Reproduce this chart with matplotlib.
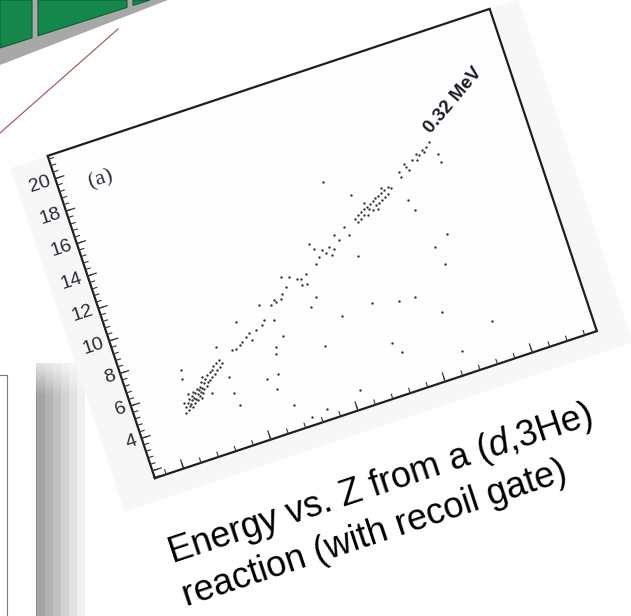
import numpy as np
import matplotlib
matplotlib.use('Agg')
import matplotlib.pyplot as plt
from matplotlib.transforms import Affine2D
from matplotlib.patches import Polygon, Rectangle

plt.rcParams['font.family'] = ['Liberation Sans', 'DejaVu Sans']
plt.rcParams['mathtext.fontset'] = 'custom'
plt.rcParams['mathtext.rm'] = 'Liberation Sans'
plt.rcParams['mathtext.it'] = 'Liberation Sans:italic'

# ---------------- data (Z position vs. energy) ----------------
low_z = [2.2, 2.4, 2.3, 2.6, 2.7, 2.8, 2.9, 3.0, 3.1, 3.2, 3.3, 3.4, 3.5, 3.6, 3.7, 3.8, 3.9,
         4.0, 4.1, 4.2, 4.3, 4.4, 4.5, 4.6, 4.7, 4.8, 4.9, 5.0, 5.2, 5.3, 5.5, 5.6, 5.8,
         6.0, 6.1, 6.3, 6.5, 6.6, 6.8, 7.0, 7.2, 7.4, 7.6, 3.0, 4.3, 5.1]
low_e = [4.6, 4.9, 5.2, 4.7, 5.1, 4.9, 5.3, 5.0, 4.8, 5.2, 5.4, 5.0, 5.3, 5.6, 5.2, 5.5, 5.1,
         5.4, 5.7, 5.3, 5.6, 5.5, 5.8, 5.4, 5.7, 6.0, 5.6, 5.9, 5.7, 6.1, 5.9, 6.3, 6.0,
         6.4, 6.1, 6.5, 6.2, 6.7, 6.4, 6.8, 6.5, 6.9, 6.7, 5.6, 5.1, 6.3]

mid_z = [9.08, 9.49, 10.02, 10.92, 11.38, 11.49, 13.05, 13.39, 12.18, 10.4,
         14.59, 15.11, 15.22, 16.2, 15.86, 16.77, 17.46, 16.6, 18.27, 19.29, 19.12, 18.55, 18.6,
         20.67, 21.01, 20.67, 21.24, 21.81, 22.05, 22.62, 22.68, 23.54, 23.88, 24.86, 25.08, 23.08]
mid_e = [7.23, 7.25, 7.36, 7.72, 7.84, 7.41, 8.05, 8.3, 7.89, 7.5,
         9.01, 9.22, 9.1, 9.44, 9.19, 9.75, 10.24, 10.39, 9.99, 10.12, 9.53, 9.53, 9.9,
         11.72, 11.34, 10.48, 10.79, 11.1, 10.86, 11.16, 10.64, 11.71, 11.35, 12.0, 11.43, 10.97]

high_z = [26.3, 26.5, 26.7, 26.9, 27.1, 27.3, 27.5, 27.7, 27.9, 28.1, 28.3, 28.5, 28.7, 28.9,
          29.1, 29.3, 29.5, 29.7, 29.9, 30.1, 30.3, 30.5, 30.8, 31.1, 27.8, 29.0, 30.0,
          32.43, 32.42, 33.29, 33.51, 34.21, 34.78, 35.06, 35.58, 36.04, 36.56, 34.73, 33.23, 35.7]
high_e = [12.2, 12.0, 12.4, 12.1, 12.5, 12.3, 12.6, 12.2, 12.7, 12.5, 12.8, 12.4, 12.9, 12.6,
          13.0, 12.7, 13.1, 12.8, 13.2, 12.9, 13.3, 13.0, 13.4, 13.3, 12.95, 12.35, 13.5,
          14.03, 13.72, 14.17, 13.93, 14.42, 14.73, 14.58, 14.79, 14.91, 15.13, 14.33, 14.39, 14.7]

stray_z = [3.09, 2.95, 5.53, 7.48, 10.41, 7.76, 7.95, 7.82, 13.39, 11.72, 14.42, 12.4, 13.03,
           13.67, 13.51, 14.8, 13.55, 15.03, 16.87, 19.52, 18.66, 21.62, 18.79, 20.94, 25.33,
           24.24, 26.67, 25.17, 27.98, 25.84, 26.59, 29.83, 32.07, 32.78, 36.92, 35.29, 33.55,
           34.07, 32.43, 32.78, 37.12, 37.1]
stray_e = [7.1, 6.57, 5.19, 7.72, 8.73, 4.79, 4.03, 5.81, 9.22, 5.0, 8.11, 4.26, 5.07,
           6.6, 6.22, 7.06, 3.02, 2.04, 2.23, 8.63, 8.17, 7.09, 5.75, 2.63, 10.1,
           14.88, 13.66, 7.27, 6.87, 4.66, 4.01, 6.78, 5.45, 2.92, 4.03, 9.71, 9.2,
           8.07, 12.31, 11.64, 14.31, 13.8]

y_major = [2, 4, 6, 8, 10, 12, 14, 16, 18, 20]
y_minor = list(np.arange(1.6, 21.3, 0.4))
y_labels = ['4', '6', '8', '10', '12', '14', '16', '18', '20']
x_major = [0, 10, 20, 30, 40]
x_minor = list(np.arange(-2, 47, 2))
xlim = (-3.3, 47.4)
ylim = (1.55, 21.4)

caption1 = "Energy vs. Z from a ($\\mathit{d}$,3He)"
caption2 = "reaction (with recoil gate)"
peak_label = "0.32 MeV"
panel_label = "(a)"

# ---------------- figure ----------------
W, H = 631, 616
fig = plt.figure(figsize=(W / 100, H / 100), dpi=100)
fig.patch.set_facecolor('white')

# background decoration axes in pixel coordinates (y downwards)
bg = fig.add_axes([0, 0, 1, 1], zorder=0)
bg.set_xlim(0, W)
bg.set_ylim(H, 0)
bg.axis('off')

# green detector strip (top-left)
bg.add_patch(Polygon([(0, 0), (168, 0), (0, 65)], closed=True, fc='#a8a8a8', ec='none'))
for poly in ([(0, 0), (32, 0), (32, 37.8), (0, 48)],
             [(38, 0), (127, 0), (127, 7.4), (38, 35.8)],
             [(133, 0), (150, 0), (133, 5.4)]):
    bg.add_patch(Polygon(poly, closed=True, fc='#14874a', ec='#0c5e33', lw=0.8))
# thin red guide line
bg.plot([118, 0], [29, 133], color='#9a5050', lw=0.8)

# bottom-left box with soft shadow
nx, ny = 57, 253
cols = np.arange(nx)
a_col = np.floor((1 - cols / nx) * 7) / 7 * 0.42
rows = np.arange(ny)
a_row = np.clip(0.3 + rows / 45.0, 0, 1)
shadow = np.zeros((ny, nx, 4))
shadow[..., 3] = a_row[:, None] * a_col[None, :]
bg.imshow(shadow, extent=(36, 93, 616, 363), interpolation='nearest', aspect='auto', zorder=1)
bg.add_patch(Rectangle((0, 363), 36, 253, fc='white', ec='none', zorder=2))
bg.plot([7, 7], [375, 616], color='#7a7a7a', lw=0.8, zorder=3)
bg.plot([0, 7], [375, 375], color='#7a7a7a', lw=0.8, zorder=3)
bg.set_xlim(0, W)
bg.set_ylim(H, 0)

# ---------------- rotated scatter plot ----------------
cx, cy = 322.25, 616 - 243.5
aw, ah = 465.8, 339.6
ax = fig.add_axes([(cx - aw / 2) / W, (cy - ah / 2) / H, aw / W, ah / H], zorder=2)
ax.set_xlim(*xlim)
ax.set_ylim(*ylim)
ax.set_autoscale_on(False)
ax.axis('off')

R = Affine2D().rotate_deg_around(cx, cy, 18.4)
tD = ax.transData + R
tA = ax.transAxes + R
tY = ax.get_yaxis_transform() + R
tX = ax.get_xaxis_transform() + R

# image background of the pasted figure
ax.add_patch(Polygon([(-0.085, -0.065), (1.065, -0.065), (1.065, 1.0), (-0.085, 1.0)],
                     closed=True, transform=tA, fc='#f7f7f7', ec='none', clip_on=False, zorder=0))
ax.add_patch(Polygon([(0, 0), (1, 0), (1, 1), (0, 1)],
                     closed=True, transform=tA, fc='#fefefe', ec='none', clip_on=False, zorder=0.5))

for zs, es in ((low_z, low_e), (mid_z, mid_e), (high_z, high_e), (stray_z, stray_e)):
    ax.plot(zs, es, ls='none', marker='o', ms=1.7, mec='none', mfc='#2e2e2e',
            transform=tD, clip_on=False, zorder=3)

# frame
ax.plot([0, 1, 1, 0, 0], [0, 0, 1, 1, 0], color='#1e1e1e', lw=1.6,
        transform=tA, clip_on=False, zorder=4, solid_joinstyle='miter')

# y ticks (inward)
for v in y_minor:
    if ylim[0] < v < ylim[1]:
        ax.plot([0, 0.0107], [v, v], color='#333333', lw=0.8, transform=tY, clip_on=False, zorder=4)
for v in y_major:
    ax.plot([0, 0.0193], [v, v], color='#333333', lw=0.9, transform=tY, clip_on=False, zorder=4)
for v, lab in zip(y_major[1:], y_labels):
    ax.text(-0.012, v, lab, transform=tY, ha='right', va='center', rotation=18.4,
            rotation_mode='anchor', fontsize=14, color='#2a2a35', clip_on=False)

# x ticks (inward)
for v in x_minor:
    if xlim[0] < v < xlim[1]:
        ax.plot([v, v], [0, 0.0147], color='#333333', lw=0.8, transform=tX, clip_on=False, zorder=4)
for v in x_major:
    ax.plot([v, v], [0, 0.0265], color='#333333', lw=0.9, transform=tX, clip_on=False, zorder=4)

# annotations inside the panel
ax.text(1.34, 19.1, panel_label, transform=tD, ha='center', va='center', rotation=18.4,
        rotation_mode='anchor', fontsize=16, family=['Liberation Serif', 'DejaVu Serif'],
        color='#2c2c3a', clip_on=False)
ax.text(37.09, 15.55, peak_label, transform=tD, ha='left', va='baseline', rotation=50,
        rotation_mode='anchor', fontsize=13.5, fontweight='bold', color='#1c1c28', clip_on=False)

# caption
fig.text(172 / W, 52 / H, caption1, rotation=18.3, rotation_mode='anchor',
         ha='left', va='baseline', fontsize=26, color='black')
fig.text(186.5 / W, 9.5 / H, caption2, rotation=18.3, rotation_mode='anchor',
         ha='left', va='baseline', fontsize=26, color='black')

fig.savefig('out.png', dpi=100, facecolor='white')
